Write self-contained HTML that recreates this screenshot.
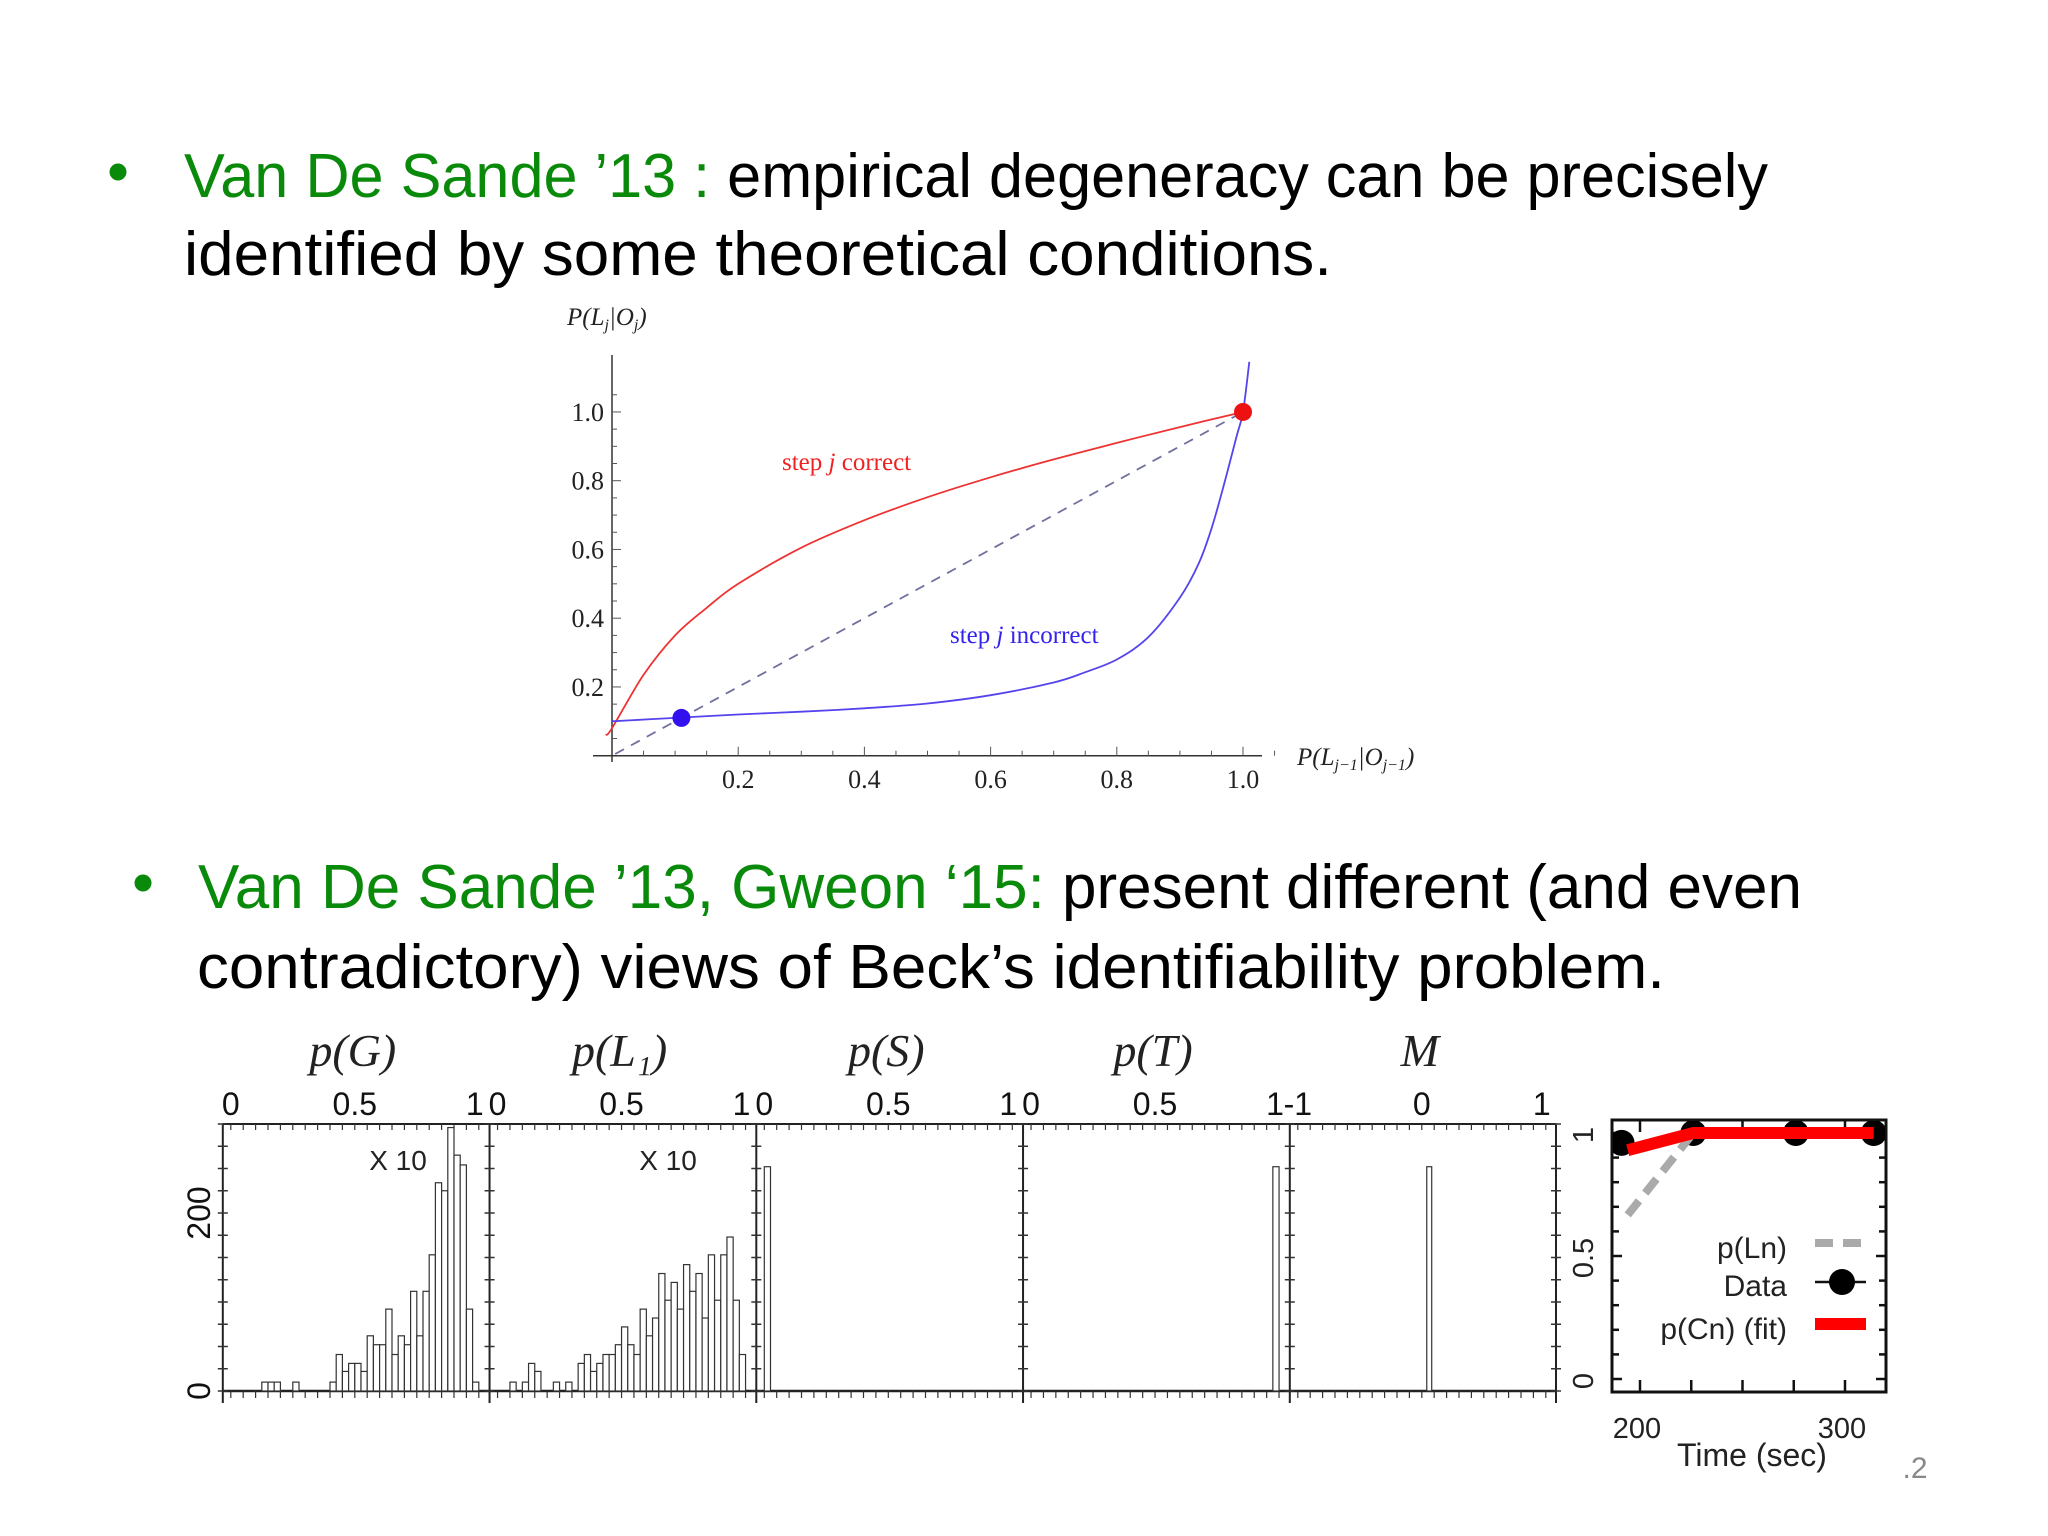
<!DOCTYPE html>
<html><head><meta charset="utf-8">
<style>
html,body{margin:0;padding:0;background:#fff;}
svg{display:block;}
</style></head>
<body>
<svg id="root" xmlns="http://www.w3.org/2000/svg" width="2048" height="1536" viewBox="0 0 2048 1536">
<rect width="2048" height="1536" fill="#fff"/>
<g font-family="Liberation Sans, sans-serif" font-size="62">
  <circle cx="118" cy="172" r="8.5" fill="#0a8a0a"/>
  <text x="184" y="197" textLength="1584" lengthAdjust="spacingAndGlyphs"><tspan fill="#0a8a0a">Van De Sande ’13 :</tspan><tspan fill="#000"> empirical degeneracy can be precisely</tspan></text>
  <text x="184" y="275" textLength="1148" lengthAdjust="spacingAndGlyphs" fill="#000">identified by some theoretical conditions.</text>
</g>
<g font-family="Liberation Sans, sans-serif" font-size="62">
  <circle cx="143" cy="883" r="8.5" fill="#0a8a0a"/>
  <text x="198" y="908" textLength="1604" lengthAdjust="spacingAndGlyphs"><tspan fill="#0a8a0a">Van De Sande ’13, Gweon ‘15:</tspan><tspan fill="#000"> present different (and even</tspan></text>
  <text x="197" y="988" textLength="1468" lengthAdjust="spacingAndGlyphs" fill="#000">contradictory) views of Beck’s identifiability problem.</text>
</g>
<g id="top"></g>
<g id="hist"></g>
<g id="right"></g>
<text x="1915" y="1478" font-family="Liberation Sans, sans-serif" font-size="30" fill="#888" text-anchor="middle">.2</text>
</svg>
<script>
// ---------- top chart data ----------
var redX = [-0.01, 0, 0.05, 0.1, 0.15, 0.2, 0.3, 0.4, 0.5, 0.6, 0.7, 0.8, 0.9, 1.0];
var redY = [0.06, 0.08, 0.235, 0.35, 0.43, 0.5, 0.605, 0.685, 0.752, 0.81, 0.862, 0.91, 0.956, 1.0];
var blueX = [0, 0.1, 0.2, 0.3, 0.4, 0.5, 0.6, 0.7, 0.75, 0.8, 0.85, 0.9, 0.93, 0.95, 0.97, 0.99, 1.0, 1.01];
var blueY = [0.1, 0.11, 0.12, 0.128, 0.138, 0.152, 0.176, 0.213, 0.243, 0.28, 0.345, 0.46, 0.56, 0.66, 0.79, 0.93, 1.0, 1.146];
var dotsX = [0.11, 1.0];
var dotsY = [0.11, 1.0];
var topTicks = ["0.2", "0.4", "0.6", "0.8", "1.0"];
var topTickVals = [0.2, 0.4, 0.6, 0.8, 1.0];

// ---------- histogram data (bin width 0.025, bin index k) ----------
var gBins = [5, 6, 7, 10, 16,17,18,19,20,21,22,23,24,25,26,27,28,29,30,31,32,33,34,35,36,37,38,39];
var gCounts = [10, 10, 10, 10, 10,41,22,31,31,22,62,52,52,92,41,62,52,112,62,112,153,234,225,296,265,254,92,10];
var lBins = [2,4,5,6,9,11,13,14,15,16,17,18,19,20,21,22,23,24,25,26,27,28,29,30,31,32,33,34,35,36,37,38,39];
var lCounts = [10,10,31,22,10,10,31,41,22,31,41,41,52,72,52,41,92,62,82,132,102,122,92,142,112,132,82,153,102,153,173,102,41];
var sBins = [0];
var sCounts = [252];
var tBins = [39];
var tCounts = [252];
var mStarts = [0.04];
var mCounts = [252];
var panelTitles = ["p(G)", "p(L₁)", "p(S)", "p(T)", "M"];
var pTickLabels = ["0", "0.5", "1"];
var pTickVals = [0, 0.5, 1];
var mTickLabels = ["-1", "0", "1"];
var mTickVals = [-1, 0, 1];
var countTickLabels = ["0", "200"];
var countTickVals = [0, 200];

// ---------- right plot data ----------
var timeData = [191, 226, 276, 314];
var valData = [0.96, 1.0, 1.0, 1.0];
var fitTime = [194, 226, 314];
var fitVal = [0.93, 1.0, 1.0];
var lnTime = [194, 226];
var lnVal = [0.667, 1.0];
var timeTickLabels = ["200", "300"];
var timeTickVals = [200, 300];
var probTickLabels = ["0", "0.5", "1"];
var probTickVals = [0, 0.5, 1];

var NS = "http://www.w3.org/2000/svg";
function mk(tag, attrs, parent) {
  var e = document.createElementNS(NS, tag);
  for (var k in attrs) e.setAttribute(k, attrs[k]);
  parent.appendChild(e);
  return e;
}
function smoothPath(pts) {
  var d = "M" + pts[0][0].toFixed(1) + "," + pts[0][1].toFixed(1);
  for (var i = 0; i < pts.length - 1; i++) {
    var p0 = pts[i - 1] || pts[i], p1 = pts[i], p2 = pts[i + 1], p3 = pts[i + 2] || p2;
    var c1x = p1[0] + (p2[0] - p0[0]) / 6, c1y = p1[1] + (p2[1] - p0[1]) / 6;
    var c2x = p2[0] - (p3[0] - p1[0]) / 6, c2y = p2[1] - (p3[1] - p1[1]) / 6;
    d += " C" + c1x.toFixed(1) + "," + c1y.toFixed(1) + " " + c2x.toFixed(1) + "," + c2y.toFixed(1) + " " + p2[0].toFixed(1) + "," + p2[1].toFixed(1);
  }
  return d;
}

// ================= TOP CHART =================
(function () {
  var g = document.getElementById("top");
  function sx(v) { return 612 + v * 631; }
  function sy(v) { return 755.7 - v * 343.75; }
  var ax = mk("line", {x1: 593, y1: sy(0), x2: 1262, y2: sy(0), stroke: "#333", "stroke-width": 1.5}, g);
  
  
  var ay = mk("line", {x1: sx(0), y1: 355, x2: sx(0), y2: 762, stroke: "#333", "stroke-width": 1.5}, g);
  
  
  for (var i = 1; i <= 21; i++) {
    var v = i * 0.05, major = (i % 4 === 0);
    mk("line", {x1: sx(v), y1: sy(0), x2: sx(v), y2: sy(0) - (major ? 9 : 5), stroke: "#555", "stroke-width": 1}, g);
    mk("line", {x1: sx(0), y1: sy(v), x2: sx(0) + (major ? 9 : 5), y2: sy(v), stroke: "#555", "stroke-width": 1}, g);
  }
  for (var i = 0; i < topTicks.length; i++) {
    var tx = mk("text", {x: sx(topTickVals[i]), y: 788, "font-family": "Liberation Serif, serif", "font-size": 26, "text-anchor": "middle", fill: "#222"}, g);
    tx.textContent = topTicks[i];
    
    
    var ty = mk("text", {x: sx(0) - 8, y: sy(topTickVals[i]) + 9, "font-family": "Liberation Serif, serif", "font-size": 26, "text-anchor": "end", fill: "#222"}, g);
    ty.textContent = topTicks[i];
    
    
  }
  var yt = mk("text", {x: 567, y: 325, "font-family": "Liberation Serif, serif", "font-size": 25, "font-style": "italic", fill: "#222"}, g);
  yt.innerHTML = 'P(L<tspan font-size="16" dy="5">j</tspan><tspan dy="-5">|O</tspan><tspan font-size="16" dy="5">j</tspan><tspan dy="-5">)</tspan>';
  
  
  var xt = mk("text", {x: 1297, y: 765, "font-family": "Liberation Serif, serif", "font-size": 25, "font-style": "italic", fill: "#222"}, g);
  xt.innerHTML = 'P(L<tspan font-size="16" dy="5">j−1</tspan><tspan dy="-5">|O</tspan><tspan font-size="16" dy="5">j−1</tspan><tspan dy="-5">)</tspan>';
  
  
  var dl = mk("line", {x1: sx(0.005), y1: sy(0.005), x2: sx(1), y2: sy(1), stroke: "#7070a0", "stroke-width": 1.8, "stroke-dasharray": "10,8"}, g);
  
  
  var rp = [], bp = [];
  for (var i = 0; i < redX.length; i++) rp.push([sx(redX[i]), sy(redY[i])]);
  for (var i = 0; i < blueX.length; i++) bp.push([sx(blueX[i]), sy(blueY[i])]);
  var rc = mk("path", {d: smoothPath(rp), fill: "none", stroke: "#ee3333", "stroke-width": 1.8}, g);
  
  
  var bc = mk("path", {d: smoothPath(bp), fill: "none", stroke: "#5544ee", "stroke-width": 1.8}, g);
  
  
  var cols = ["#3311ee", "#ee1111"];
  for (var i = 0; i < dotsX.length; i++) {
    var c = mk("circle", {cx: sx(dotsX[i]), cy: sy(dotsY[i]), r: 9, fill: cols[i]}, g);
    
    
  }
  var l1 = mk("text", {x: 782, y: 470, "font-family": "Liberation Serif, serif", "font-size": 25, fill: "#ee2222"}, g);
  l1.innerHTML = 'step <tspan font-style="italic">j</tspan> correct';
  
  
  var l2 = mk("text", {x: 950, y: 643, "font-family": "Liberation Serif, serif", "font-size": 25, fill: "#3322ee"}, g);
  l2.innerHTML = 'step <tspan font-style="italic">j</tspan> incorrect';
  
  
})();

// ================= HISTOGRAMS =================
(function () {
  var g = document.getElementById("hist");
  var PW = 266.75, L0 = 222.8, TOP = 1124, BASE = 1391;
  function L(i) { return L0 + PW * i; }
  function px(i, v) { return L(i) + 8 + v * 248; }
  function mx(v) { return L(4) + 8 + (v + 1) / 2 * 248; }
  function hy(c) { return BASE - c * 0.89; }
  var top = mk("line", {x1: L0, y1: TOP, x2: 1556, y2: TOP, stroke: "#222", "stroke-width": 2}, g);
  
  
  var bot = mk("line", {x1: L0, y1: BASE, x2: 1556, y2: BASE, stroke: "#222", "stroke-width": 2.5}, g);
  
  
  for (var i = 0; i <= 5; i++) {
    var xx = i < 5 ? L(i) : 1556;
    var vl = mk("line", {x1: xx, y1: TOP, x2: xx, y2: BASE + 12, stroke: "#222", "stroke-width": 2}, g);
    
    
    for (var c = 0; c <= 300; c += 25) {
      mk("line", {x1: xx - 5, y1: hy(c), x2: xx + 5, y2: hy(c), stroke: "#333", "stroke-width": 1.5}, g);
    }
  }
  for (var i = 0; i < 5; i++) {
    for (var t = 0; t <= 20; t++) {
      var xx = L(i) + 8 + t * 12.4;
      mk("line", {x1: xx, y1: TOP, x2: xx, y2: TOP + 6, stroke: "#333", "stroke-width": 1.2}, g);
      mk("line", {x1: xx, y1: BASE, x2: xx, y2: BASE + 7, stroke: "#333", "stroke-width": 1.2}, g);
    }
    var tt = mk("text", {x: L(i) + 130, y: 1066, "font-family": "Liberation Serif, serif", "font-size": 46, "font-style": "italic", "text-anchor": "middle", fill: "#222"}, g);
    tt.textContent = panelTitles[i];
    
    
    var labs = i < 4 ? pTickLabels : mTickLabels, vals = i < 4 ? pTickVals : mTickVals;
    for (var j = 0; j < labs.length; j++) {
      var xx = i < 4 ? px(i, vals[j]) : mx(vals[j]);
      if (j === 2) xx -= 4;
      var tl = mk("text", {x: xx, y: 1115, "font-family": "Liberation Sans, sans-serif", "font-size": 32, "text-anchor": "middle", fill: "#111"}, g);
      tl.textContent = labs[j];
      
      
    }
  }
  for (var j = 0; j < countTickLabels.length; j++) {
    var cy = hy(countTickVals[j]);
    var cl = mk("text", {x: 0, y: 0, transform: "translate(210," + cy + ") rotate(-90)", "font-family": "Liberation Sans, sans-serif", "font-size": 32, "text-anchor": "middle", fill: "#111"}, g);
    cl.textContent = countTickLabels[j];
    
    
  }
  function bars(panel, bins, counts) {
    for (var k = 0; k < bins.length; k++) {
      var x0 = px(panel, bins[k] * 0.025), x1 = px(panel, (bins[k] + 1) * 0.025);
      var r = mk("rect", {x: x0, y: hy(counts[k]), width: x1 - x0, height: BASE - hy(counts[k]), fill: "#fff", stroke: "#333", "stroke-width": 1.2}, g);
      
      
    }
  }
  bars(0, gBins, gCounts);
  bars(1, lBins, lCounts);
  bars(2, sBins, sCounts);
  bars(3, tBins, tCounts);
  for (var k = 0; k < mStarts.length; k++) {
    var x0 = mx(mStarts[k]), x1 = mx(mStarts[k] + 0.04);
    var r = mk("rect", {x: x0, y: hy(mCounts[k]), width: x1 - x0, height: BASE - hy(mCounts[k]), fill: "#fff", stroke: "#333", "stroke-width": 1.2}, g);
    
    
  }
  var x10a = mk("text", {x: 398, y: 1170, "font-family": "Liberation Sans, sans-serif", "font-size": 28, "text-anchor": "middle", fill: "#222"}, g);
  x10a.textContent = "X 10";
  
  
  var x10b = mk("text", {x: 668, y: 1170, "font-family": "Liberation Sans, sans-serif", "font-size": 28, "text-anchor": "middle", fill: "#222"}, g);
  x10b.textContent = "X 10";
  
  
})();

// ================= RIGHT PLOT =================
(function () {
  var g = document.getElementById("right");
  function tx(t) { return 1640 + (t - 200) * 2.05; }
  function vy(v) { return 1379 - v * 246; }
  var fr = mk("rect", {x: 1612, y: 1120, width: 274, height: 272, fill: "none", stroke: "#111", "stroke-width": 3}, g);
  
  
  for (var v = 0; v <= 10; v++) {
    var yy = vy(v / 10), len = v % 5 === 0 ? 10 : 7;
    mk("line", {x1: 1612, y1: yy, x2: 1612 + len, y2: yy, stroke: "#111", "stroke-width": 2.5}, g);
    mk("line", {x1: 1886, y1: yy, x2: 1886 - len, y2: yy, stroke: "#111", "stroke-width": 2.5}, g);
  }
  for (var t = 200; t <= 300; t += 25) {
    mk("line", {x1: tx(t), y1: 1392, x2: tx(t), y2: 1380, stroke: "#111", "stroke-width": 2.5}, g);
    mk("line", {x1: tx(t), y1: 1120, x2: tx(t), y2: 1132, stroke: "#111", "stroke-width": 2.5}, g);
  }
  for (var j = 0; j < timeTickLabels.length; j++) {
    var t1 = mk("text", {x: tx(timeTickVals[j]) - 3, y: 1438, "font-family": "Liberation Sans, sans-serif", "font-size": 29, "text-anchor": "middle", fill: "#222"}, g);
    t1.textContent = timeTickLabels[j];
    
    
  }
  for (var j = 0; j < probTickLabels.length; j++) {
    var p1 = mk("text", {x: 0, y: 0, transform: "translate(1593," + (vy(probTickVals[j]) + 2) + ") rotate(-90)", "font-family": "Liberation Sans, sans-serif", "font-size": 29, "text-anchor": "middle", fill: "#222"}, g);
    p1.textContent = probTickLabels[j];
    
    
  }
  var xt = mk("text", {x: 1752, y: 1466, "font-family": "Liberation Sans, sans-serif", "font-size": 32, "text-anchor": "middle", fill: "#222"}, g);
  xt.textContent = "Time (sec)";
  
  
  var clip = mk("clipPath", {id: "rclip"}, g);
  mk("rect", {x: 1613, y: 1121, width: 272, height: 270}, clip);
  var inner = mk("g", {"clip-path": "url(#rclip)"}, g);
  for (var i = 0; i < timeData.length; i++) {
    var c = mk("circle", {cx: tx(timeData[i]), cy: vy(valData[i]), r: 13, fill: "#000"}, inner);
    
    
  }
  var lp = "";
  for (var i = 0; i < lnTime.length; i++) lp += (i ? " L" : "M") + tx(lnTime[i]) + "," + vy(lnVal[i]);
  var ln = mk("path", {d: lp, fill: "none", stroke: "#aaa", "stroke-width": 8, "stroke-dasharray": "18,10"}, inner);
  
  
  var fp = "";
  for (var i = 0; i < fitTime.length; i++) fp += (i ? " L" : "M") + tx(fitTime[i]) + "," + vy(fitVal[i]);
  var fl = mk("path", {d: fp, fill: "none", stroke: "#ff0000", "stroke-width": 12}, inner);
  
  
  var legendLabels = ["p(Ln)", "Data", "p(Cn) (fit)"];
  var legendY = [1247, 1285, 1328];
  for (var i = 0; i < legendLabels.length; i++) {
    var lt = mk("text", {x: 1787, y: legendY[i] + 11, "font-family": "Liberation Sans, sans-serif", "font-size": 30, "text-anchor": "end", fill: "#222"}, g);
    lt.textContent = legendLabels[i];
    
    
  }
  var s1 = mk("line", {x1: 1815, y1: 1243, x2: 1866, y2: 1243, stroke: "#aaa", "stroke-width": 8, "stroke-dasharray": "18,10"}, g);
  
  
  var s2 = mk("line", {x1: 1815, y1: 1282, x2: 1866, y2: 1282, stroke: "#111", "stroke-width": 2.5}, g);
  
  
  var s3 = mk("circle", {cx: 1842, cy: 1282, r: 13, fill: "#000"}, g);
  
  
  var s4 = mk("rect", {x: 1815, y: 1318, width: 51, height: 12, fill: "#ff0000"}, g);
  
  
})();
</script>
</body></html>
